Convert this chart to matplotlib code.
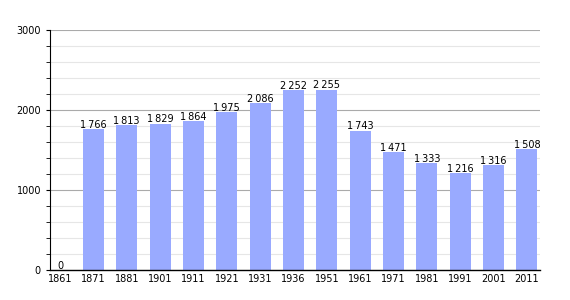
import matplotlib
matplotlib.use('Agg')
from matplotlib import pyplot as plt
from matplotlib.ticker import MultipleLocator
import numpy as np

years = ['1861', '1871', '1881', '1901', '1911', '1921', '1931', '1936',
         '1951', '1961', '1971', '1981', '1991', '2001', '2011']
population = [0, 1766, 1813, 1829, 1864, 1975, 2086, 2252, 2255, 1743,
              1471, 1333, 1216, 1316, 1508]

fig = plt.figure(figsize=(5.7, 3.0), dpi=100)
ax = fig.add_axes([50/570, 30/300, 490/570, 240/300])

x = np.arange(len(years))
ax.bar(x, population, width=0.63, color='#99aaff', zorder=2)

# value labels sit right on top of each bar
for xi, v in zip(x, population):
    label = f'{v:,}'.replace(',', '\u2009') if v >= 1000 else str(v)
    ax.text(xi, v - 10, label, ha='center', va='bottom', fontsize=7, zorder=3)

ax.set_xlim(-0.3, 14.39)
ax.set_ylim(0, 3000)
ax.set_xticks(x)
ax.set_xticklabels(years, fontsize=7)
ax.yaxis.set_major_locator(MultipleLocator(1000))
ax.yaxis.set_minor_locator(MultipleLocator(200))
ax.tick_params(axis='y', labelsize=7, which='both', length=3, direction='out')
ax.tick_params(axis='x', length=0, pad=3)
ax.grid(which='major', axis='y', color='#aaaaaa', linewidth=0.8, zorder=0)
ax.grid(which='minor', axis='y', color='#e6e6e6', linewidth=0.8, zorder=0)
ax.spines['top'].set_visible(False)
ax.spines['right'].set_visible(False)
ax.spines['left'].set_linewidth(0.8)
ax.spines['bottom'].set_linewidth(1.0)

fig.savefig('out.png', dpi=100)
